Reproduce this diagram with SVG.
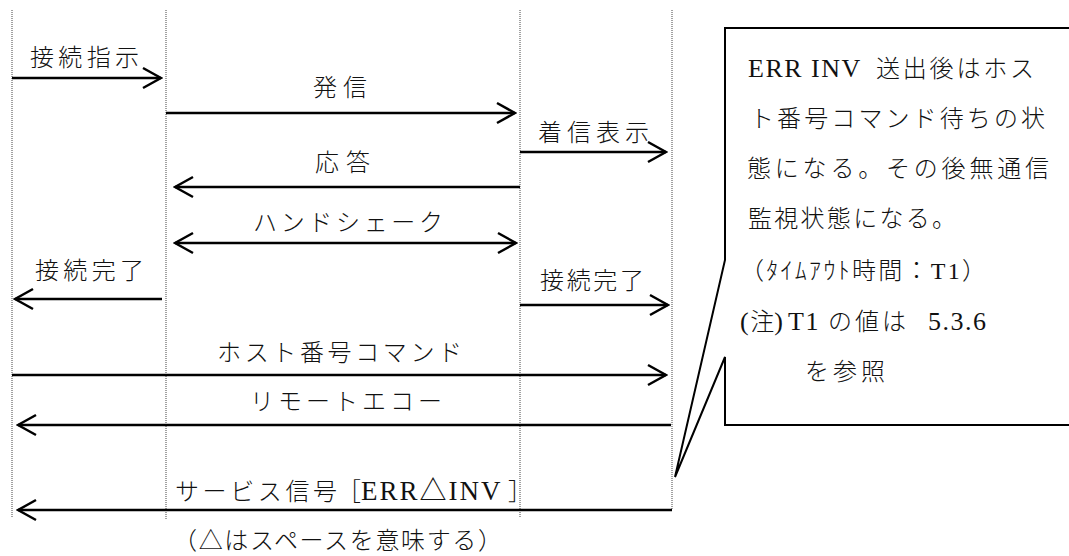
<svg xmlns="http://www.w3.org/2000/svg" width="1069" height="556" viewBox="0 0 1069 556">
<style>
.life{stroke:#444;stroke-width:1;stroke-dasharray:1 1;fill:none}
.msg{stroke:#000;stroke-width:2.5;fill:none}
.lbl{font-family:"Liberation Serif","Noto Sans CJK JP",serif;font-size:24px;font-weight:300;fill:#111}
.lat{font-size:27px;font-weight:400;letter-spacing:2px}
.lat2{font-size:26px;font-weight:400;letter-spacing:1.5px}
.call{stroke:#000;stroke-width:2;fill:#fff}
</style>
<defs>
<marker id="ah" markerUnits="userSpaceOnUse" viewBox="0 0 22 24" markerWidth="22" markerHeight="24" refX="20" refY="12" orient="auto-start-reverse">
<path d="M2,2 L20,12 L2,22" fill="none" stroke="#000" stroke-width="2.5"/>
</marker>
</defs>
<g id="lifelines">
<line class="life" x1="12" y1="10" x2="12" y2="517"/>
<line class="life" x1="166" y1="10" x2="166" y2="519"/>
<line class="life" x1="520" y1="10" x2="520" y2="517"/>
<line class="life" x1="672" y1="10" x2="672" y2="510"/>
</g>
<g id="connectors">
<line class="msg" x1="12" y1="78" x2="161" y2="78" marker-end="url(#ah)"/>
<line class="msg" x1="166" y1="113" x2="515" y2="113" marker-end="url(#ah)"/>
<line class="msg" x1="520" y1="152" x2="666" y2="152" marker-end="url(#ah)"/>
<line class="msg" x1="520" y1="187" x2="175" y2="187" marker-end="url(#ah)"/>
<line class="msg" x1="175" y1="243" x2="516" y2="243" marker-start="url(#ah)" marker-end="url(#ah)"/>
<line class="msg" x1="162" y1="299" x2="15" y2="299" marker-end="url(#ah)"/>
<line class="msg" x1="520" y1="305" x2="668" y2="305" marker-end="url(#ah)"/>
<line class="msg" x1="12" y1="375" x2="666" y2="375" marker-end="url(#ah)"/>
<line class="msg" x1="671" y1="425" x2="18" y2="425" marker-end="url(#ah)"/>
<line class="msg" x1="672" y1="510" x2="18" y2="510" marker-end="url(#ah)"/>
</g>
<g id="labels">
<text class="lbl" x="30" y="66" textLength="109" lengthAdjust="spacing">接続指示</text>
<text class="lbl" x="313" y="96" textLength="54" lengthAdjust="spacing">発信</text>
<text class="lbl" x="538" y="141" textLength="111" lengthAdjust="spacing">着信表示</text>
<text class="lbl" x="315" y="171" textLength="55" lengthAdjust="spacing">応答</text>
<text class="lbl" x="253" y="231" textLength="190" lengthAdjust="spacing">ハンドシェーク</text>
<text class="lbl" x="35" y="279" textLength="109" lengthAdjust="spacing">接続完了</text>
<text class="lbl" x="540" y="289" textLength="104" lengthAdjust="spacing">接続完了</text>
<text class="lbl" x="217" y="361" textLength="245" lengthAdjust="spacing">ホスト番号コマンド</text>
<text class="lbl" x="250" y="410" textLength="192" lengthAdjust="spacing">リモートエコー</text>
<text class="lbl" y="500"><tspan x="175" textLength="162" lengthAdjust="spacing">サービス信号</tspan><tspan x="337">［</tspan><tspan class="lat" x="361">ERR△INV</tspan><tspan x="508">］</tspan></text>
<text class="lbl" x="173" y="549" textLength="329" lengthAdjust="spacing">（△はスペースを意味する）</text>
</g>
<g id="callout">
<path class="call" d="M1072,28 H725 V260 L675,477 L725,357 V425 H1072"/>
<text class="lbl" y="77"><tspan class="lat2" x="748">ERR INV</tspan><tspan x="876" textLength="158" lengthAdjust="spacing">送出後はホス</tspan></text>
<text class="lbl" x="750" y="127" textLength="295" lengthAdjust="spacing">ト番号コマンド待ちの状</text>
<text class="lbl" x="747" y="177" textLength="302" lengthAdjust="spacing">態になる。その後無通信</text>
<text class="lbl" x="748" y="227" textLength="208" lengthAdjust="spacing">監視状態になる。</text>
<text class="lbl" x="740" y="279" textLength="246" lengthAdjust="spacing">（ﾀｲﾑｱｳﾄ時間：T1）</text>
<text class="lbl" y="330"><tspan class="lat2" x="740">(</tspan><tspan>注</tspan><tspan class="lat2">)</tspan><tspan class="lat2" x="788">T1</tspan><tspan x="828" textLength="78" lengthAdjust="spacing">の値は</tspan><tspan class="lat2" x="928">5.3.6</tspan></text>
<text class="lbl" x="805" y="380" textLength="80" lengthAdjust="spacing">を参照</text>
</g>
</svg>
